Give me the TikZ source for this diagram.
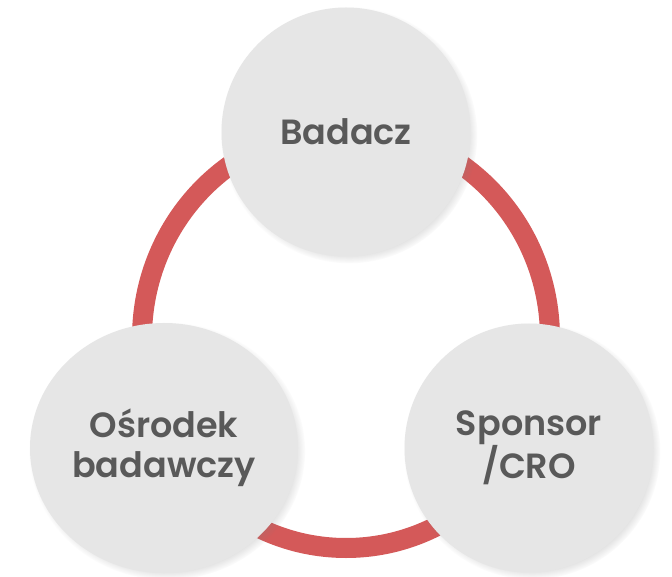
\documentclass[tikz,border=0pt]{standalone}
\usepackage{fontspec}
\setmainfont{Poppins}[BoldFont={Poppins SemiBold}]
\usetikzlibrary{shapes.geometric, shadows}
\definecolor{ringred}{HTML}{D45959}
\definecolor{bubblegrey}{HTML}{E6E6E6}
\definecolor{labelgrey}{HTML}{595959}
\tikzstyle{bubble} = [
	circle,
	minimum size=249pt,
	inner sep=0pt,
	fill=bubblegrey,
	text=labelgrey,
	align=center,
	font=\fontsize{35}{40}\selectfont\bfseries,
	circular drop shadow={shadow scale=1.03, shadow xshift=3pt, shadow yshift=-3pt, opacity=0.45}
]
\tikzstyle{ring} = [draw=ringred, line width=20pt]
\begin{document}
\begin{tikzpicture}[x=1pt, y=-1pt]

		\fill [white] (0,0) rectangle (672,577);
		\useasboundingbox (0,0) rectangle (672,577);

		\coordinate (hub) at (346,338);
		\draw [ring] (hub) ellipse [x radius=204pt, y radius=210pt];

		\node (badacz) [bubble] at (346,132) {Badacz};
		\node (osrodek) [bubble, ellipse, minimum width=268pt, minimum height=250pt] at (164,448) {Ośrodek\\badawczy};
		\node (sponsor) [bubble] at (529,448) {Sponsor\\/CRO};

	\end{tikzpicture}
\end{document}
